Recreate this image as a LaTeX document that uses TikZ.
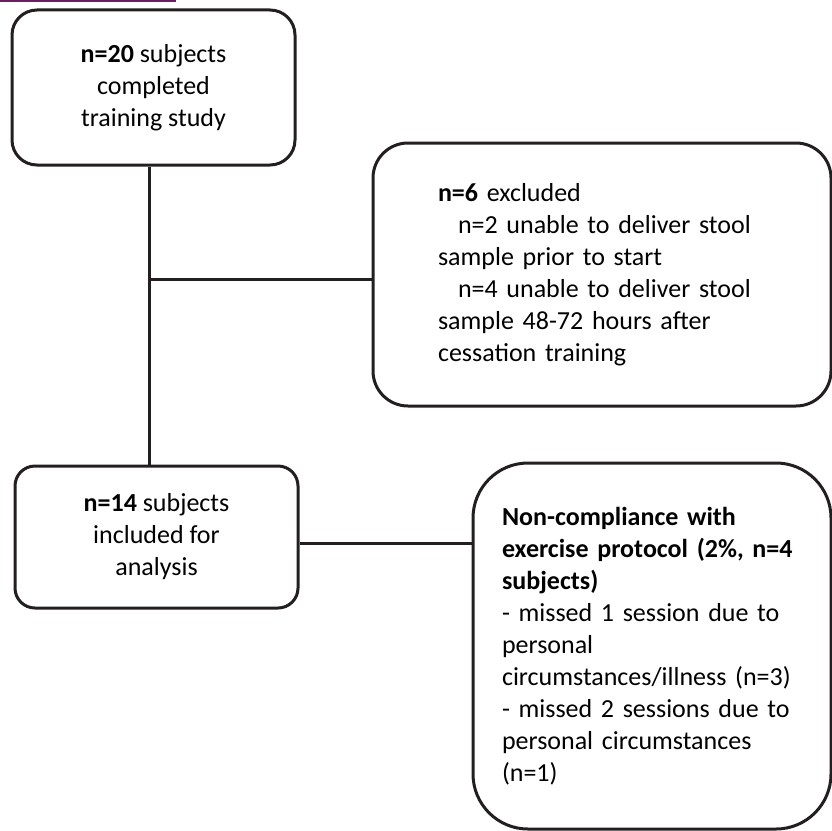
\documentclass[tikz,border=0pt]{standalone}
\usepackage{fontspec}
\setmainfont{Carlito}
\usepackage{xcolor}
\usepackage{tikz}
\definecolor{plum}{RGB}{107,31,94}
\definecolor{inkgrey}{RGB}{35,31,32}

\begin{document}
\begin{tikzpicture}[
  box/.style={draw=inkgrey, line width=0.06cm, inner sep=0pt, font=\fontsize{14.8}{18.2}\selectfont},
  link/.style={draw=inkgrey, line width=0.06cm}]

\useasboundingbox (0,0) rectangle (16.64,-16.6);
\clip (0,0) rectangle (16.64,-16.6);

\draw [plum, line width=0.035cm] (0,-0.0175) -- (3.52,-0.0175);

\node[box, rounded corners=0.5cm, minimum width=5.66cm, minimum height=3.1cm, align=center] (trained) at (3.07,-1.75)
  {\textbf{n=20} subjects\\completed\\training study};

\node[box, rounded corners=0.7cm, minimum width=9.16cm, minimum height=5.26cm, text width=6.56cm, align=left] (excluded) at (12.04,-5.49)
  {\textbf{n=6} excluded\\\hspace*{0.4cm}n=2 unable to deliver stool\\sample prior to start\\\hspace*{0.4cm}n=4 unable to deliver stool\\sample 48-72 hours after\\cessation training};

\node[box, rounded corners=0.4cm, minimum width=5.66cm, minimum height=2.84cm, align=center] (analysed) at (3.13,-10.74)
  {\textbf{n=14} subjects\\included for\\analysis};

\node[box, rounded corners=1.1cm, minimum width=7.16cm, minimum height=7.32cm, text width=6.0cm, align=left] (noncompliant) at (13.04,-12.92)
  {\textbf{Non-compliance with}\\\textbf{exercise protocol (2\%, n=4}\\\textbf{subjects)}\\- missed 1 session due to\\personal\\circumstances/illness (n=3)\\- missed 2 sessions due to\\personal circumstances\\(n=1)};

\coordinate (split) at (2.98,-5.58);
\draw[link] (trained.south -| split) -- (analysed.north -| split);
\draw[link] (split) -- (split -| excluded.west);

\draw[link] ([yshift=-0.12cm]analysed.east) -- ([yshift=-0.12cm]analysed.east -| noncompliant.west);

\end{tikzpicture}
\end{document}
